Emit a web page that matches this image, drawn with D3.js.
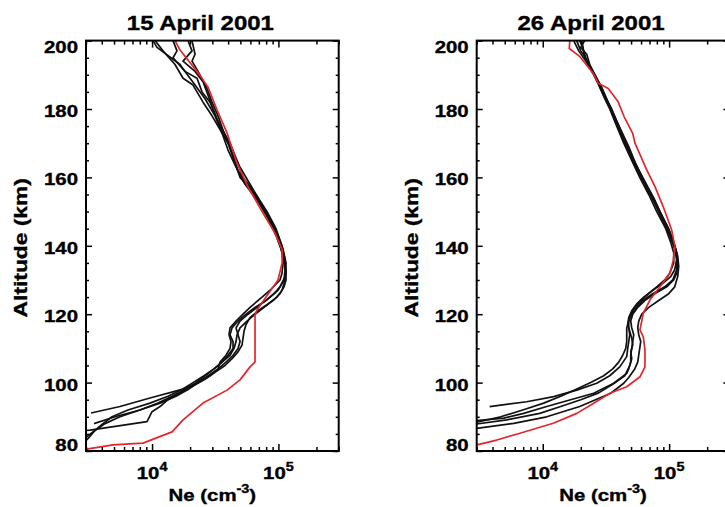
<!DOCTYPE html>
<html><head><meta charset="utf-8">
<script src="https://cdn.jsdelivr.net/npm/d3@7"></script>
<style>
body{margin:0;background:#fff}
text{font-family:"Liberation Sans",Arial,Helvetica,sans-serif;font-weight:bold;fill:#000;stroke:#000;stroke-width:0.35px}
</style>
</head><body>
<svg id="chart" width="725" height="507"></svg>
<script>
// ---------------- DATA: [altitude km, Ne cm^-3] ----------------
const panelTitles = ["15 April 2001", "26 April 2001"];
const altMajorTicks = [80, 100, 120, 140, 160, 180, 200];
const neDecadeTicks = [1e4, 1e5];
const neDecadeLabels = ["4", "5"];

const apr15_red = [[200,15200],[197.3,16600],[189.9,23900],[186.4,27700],[179.7,32700],[173,39200],[164.2,47000],[157.2,57500],[149.6,75500],[143.7,94000],[138.8,107000],[135,107000],[130,99300],[125,79800],[121.2,67700],[119.8,65300],[112.5,65300],[106,65300],[104.6,59600],[100.8,49700],[97.8,39200],[94,25300],[89.1,17600],[85.6,14400],[82.3,8480],[81.8,4910],[80.6,3110],[80,3000]];

const apr15_p1 = [[200,10170],[198,10940],[193,16640],[191,18230],[189,22690],[185,24860],[182,28760],[177,32670],[172,38490],[167,42950],[162,47910],[157,59620],[152,74190],[147,89010],[142,101100],[138,106780],[135,108740],[132,106780],[130,102970],[127,85820],[125,74190],[122,59620],[120,52480],[118,46190],[116,41410],[114,40660],[112,42170],[110,41410],[108,38490],[106,34510],[104,33270],[102,28760],[100,23110],[98,17260],[95.5,9630],[93,5575],[91.1,3290]];
const apr15_p2 = [[200,10550],[197,12210],[193,15190],[189,17580],[187,21090],[182,25310],[178,29820],[174,34510],[170,39930],[165,44540],[160,49690],[155,65300],[150,78340],[145,92310],[140,104860],[136,110740],[133,112780],[130,110740],[127,99270],[125,85820],[122,67730],[120,57490],[118,49690],[116,46190],[114,47910],[112,49690],[110,47910],[108,43740],[106,38490],[104,33270],[102,27730],[100,23110],[98,19260],[96,15470],[94,11560],[92,8020],[90,5090],[88,3470]];
const apr15_p3 = [[200,14650],[197,15750],[195,14650],[191,18230],[187,21880],[183,26250],[178,31500],[173,35790],[168,39930],[163,46190],[158,54430],[153,68970],[148,82750],[143,95730],[139,104860],[135,112780],[132,114860],[129,110740],[127,106780],[125,97480],[123,82750],[121,68970],[119,59620],[117,55430],[115,53440],[113,52480],[111,51530],[109,47910],[107,42950],[105,37800],[103,31500],[101,26250],[99,21090],[97,16640],[95,13370],[93,11560],[91.5,9990],[88.6,9120],[86.1,3230],[86,3000]];
const apr15_p4 = [[200,19260],[197,20710],[194,17580],[191,21880],[188,25310],[184,27730],[180,30370],[175,34510],[170,41410],[165,47040],[160,52480],[155,66500],[150,81250],[145,95730],[140,106780],[136,112780],[133,114860],[130,114860],[128,110740],[126,102970],[124,90640],[122,76930],[120,65300],[118,56450],[116,49690],[114,47040],[112,46190],[110,44540],[108,41410],[106,35790],[104,30930],[102,25780],[100,21090],[98,17260],[96,13370],[94,9630],[92,6450],[90,4820],[88,4090],[86,3530],[84,3000]];
const apr15_p5 = [[200,20710],[196,21880],[194,20710],[191,23110],[186,27230],[182,29820],[178,33270],[173,37120],[168,42170],[163,49690],[158,59620],[153,71530],[148,85820],[143,99270],[139,108740],[135,114860],[131,112780],[128,102970],[126,92310],[124,79790],[122,65300],[120,55430],[118,47910],[116,42950],[114,41410],[112,43740],[110,43740],[108,39930],[106,35790],[104,30930],[102,26250],[100,22280],[98,18230],[96,14380],[94,11140],[92,8020],[90,5575],[88,4240],[86,3530],[84,3170],[83,3000]];

const apr26_red = [[200.4,16400],[197.7,16200],[195.3,19700],[190.4,25100],[187.5,27500],[186,33000],[182.1,39500],[177.8,44000],[172.9,51500],[170,53700],[162.2,66500],[157.3,77300],[151.4,89900],[144.6,104800],[139.7,111300],[135.8,107900],[132,101600],[128,84700],[124.2,70600],[120.3,62500],[115.4,58800],[113.4,62500],[109.5,64400],[104.6,64400],[101.7,58800],[98.8,46200],[96.9,34000],[93.9,25100],[91,18600],[88.1,12100],[85.2,6600],[83.2,4320],[82,3190],[81.8,3000]];

const apr26_p1 = [[200,17580],[197,19260],[194,21880],[190,25310],[187,27730],[183,30930],[180,33880],[175,38490],[170,43740],[165,50600],[160,58540],[155,68970],[150,79790],[145,94000],[141,102970],[138,108740],[135,108740],[132,101100],[130,92310],[128,79790],[126,68970],[124,59620],[122,53440],[120,49690],[118,47910],[116,47910],[114,48790],[112,47910],[110,47040],[107.6,46190],[104.6,40660],[102,33880],[99.8,26730],[97.8,18560],[95.9,12210],[94.4,7460],[93,3800]];
const apr26_p2 = [[200,19610],[198,20710],[195,21480],[192,23960],[188,27230],[184,30370],[180,35140],[175,39930],[170,45360],[165,52480],[160,61830],[155,72850],[150,84270],[145,99270],[141,108740],[138,114860],[135,116960],[132,114860],[130,108740],[128,95730],[126,76930],[124,64120],[122,56450],[120,51530],[118,49690],[116,50600],[114,52480],[112,51530],[110,50600],[108,49690],[106,49690],[104,47910],[102.7,46190],[99.8,36450],[96.9,25310],[94.9,16340],[93,10750],[91,7060],[89.6,4910],[88.9,3000]];
const apr26_p3 = [[200,21480],[198,19970],[196,22280],[193,23530],[189,26730],[185,29820],[181,33880],[176,38490],[171,43740],[166,49690],[161,58540],[156,68970],[151,81250],[146,95730],[142,106780],[139,112780],[136,114860],[133,110740],[131,102970],[129,89010],[127,74190],[125,62970],[123,55430],[121,50600],[119,47910],[117,47040],[115,48790],[113,50600],[111,51530],[109,49690],[107,50600],[105,48790],[102,44540],[99.5,35790],[97,27730],[95,19970],[93,13870],[91,9460],[89.1,5180],[87.9,3000]];
const apr26_p4 = [[200,18560],[197,19970],[194,22690],[191,24860],[187,28760],[183,32080],[179,35790],[174,41410],[169,47910],[164,54430],[159,62970],[154,75550],[149,87390],[144,101100],[140,110740],[137,116960],[134,119120],[131,116960],[128,110740],[126,99270],[124,82750],[122,68970],[120,60710],[118,57490],[116,56450],[114,57490],[112,59620],[110,58540],[108,57490],[106,56450],[104,53440],[101.5,47910],[99.8,43740],[96.9,34510],[93,19610],[90,10750],[88.1,5890],[86.6,3000]];
const apr26_p5 = [[200,20340],[197,21090],[194,22280],[190,25780],[186,29290],[182,32670],[178,36450],[173,41410],[168,47040],[163,54430],[158,64120],[153,75550],[148,87390],[143,101100],[139,110740],[136,114860],[133,114860],[130,106780],[128,92310],[126,74190],[124,61830],[122,55430],[120,50600],[118,47910],[116,46190],[114,46190],[112,46190],[110,45360],[108,42950],[106,39930],[104,35790],[102,30370],[100,23960],[98,18230],[96,13870],[94,10170],[92,6940],[90,4650],[88.4,3000]];

const panelRed = [apr15_red, apr26_red];
const panelBlack = [
  [apr15_p1, apr15_p2, apr15_p3, apr15_p4, apr15_p5],
  [apr26_p1, apr26_p2, apr26_p3, apr26_p4, apr26_p5]
];

// ---------------- LAYOUT ----------------
const svg = d3.select("#chart");
const panelLeft = [86, 476.7];
const plotW = 252.7, plotTop = 40.6, plotBottom = 451;
const SX = 1.2; // horizontal glyph stretch

function sText(g, x, y, str, size, anchor) {
  return g.append("text")
    .attr("transform", `translate(${x},${y}) scale(${SX},1)`)
    .attr("text-anchor", anchor)
    .style("font-size", size + "px")
    .text(str);
}

panelTitles.forEach((title, i) => {
  const x0 = panelLeft[i], x1 = x0 + plotW;
  const x = d3.scaleLog().domain([3000, 300000]).range([x0, x1]);
  const y = d3.scaleLinear().domain([80, 200]).range([plotBottom, plotTop]);
  const g = svg.append("g");

  g.append("clipPath").attr("id", "clip" + i)
    .append("rect").attr("x", x0).attr("y", plotTop).attr("width", plotW).attr("height", plotBottom - plotTop);

  // curves
  const line = d3.line().x(d => x(d[1])).y(d => y(d[0]));
  const cg = g.append("g").attr("clip-path", `url(#clip${i})`);
  panelBlack[i].forEach(p => {
    cg.append("path").attr("d", line(p)).attr("fill", "none")
      .attr("stroke", "#111").attr("stroke-width", 1.7).attr("stroke-linejoin", "round");
  });
  cg.append("path").attr("d", line(panelRed[i])).attr("fill", "none")
    .attr("stroke", "#e3262b").attr("stroke-width", 1.7).attr("stroke-linejoin", "round");

  // ticks
  const minorAlt = d3.range(80, 201, 5).filter(v => v % 20 !== 0);
  const minorNe = [];
  [1e3, 1e4, 1e5].forEach(d => { for (let k = 2; k <= 9; k++) { const v = k * d; if (v >= 3000 && v <= 300000) minorNe.push(v); } });

  const axes = [
    [d3.axisLeft(y), `translate(${x0},0)`, altMajorTicks, minorAlt, 6, 3],
    [d3.axisRight(y), `translate(${x1},0)`, altMajorTicks, minorAlt, 6, 3],
    [d3.axisBottom(x), `translate(0,${plotBottom})`, neDecadeTicks, minorNe, 7, 4],
    [d3.axisTop(x), `translate(0,${plotTop})`, neDecadeTicks, minorNe, 7, 4]
  ];
  axes.forEach(([ax, tr, maj, min, lm, ln]) => {
    const a1 = g.append("g").attr("transform", tr)
      .call(ax.tickValues(maj).tickSize(-lm).tickFormat(""));
    a1.select(".domain").remove();
    const a2 = g.append("g").attr("transform", tr)
      .call(ax.tickValues(min).tickSize(-ln).tickFormat(""));
    a2.select(".domain").remove();
    g.selectAll(".tick line").attr("stroke", "#000").attr("stroke-width", 1.5);
  });

  // frame
  g.append("rect").attr("x", x0).attr("y", plotTop).attr("width", plotW).attr("height", plotBottom - plotTop)
    .attr("fill", "none").attr("stroke", "#000").attr("stroke-width", 2);

  // y tick labels
  altMajorTicks.forEach(v => {
    const cy = Math.max(plotTop + 6, Math.min(plotBottom - 6, y(v) + 2));
    sText(g, x0 - 8, cy + 6, String(v), 17, "end");
  });

  // x tick labels 10^n
  neDecadeTicks.forEach((v, k) => {
    const t = g.append("text")
      .attr("transform", `translate(${x(v)},479) scale(${SX},1)`)
      .attr("text-anchor", "middle").style("font-size", "17px");
    t.append("tspan").text("10");
    t.append("tspan").attr("dy", -8).style("font-size", "12px").text(neDecadeLabels[k]);
  });

  // x axis title
  const xt = g.append("text")
    .attr("transform", `translate(${(x0 + x1) / 2},500.5) scale(${SX},1)`)
    .attr("text-anchor", "middle").style("font-size", "17px");
  xt.append("tspan").text("Ne (cm");
  xt.append("tspan").attr("dy", -8).style("font-size", "12px").text("-3");
  xt.append("tspan").attr("dy", 8).text(")");

  // y axis title
  g.append("text")
    .attr("transform", `translate(${x0 - 59},${(plotTop + plotBottom) / 2 + 2}) rotate(-90) scale(${SX},1)`)
    .attr("text-anchor", "middle").style("font-size", "19px")
    .text("Altitude (km)");

  // panel title
  sText(g, (x0 + x1) / 2 - 12, 30, title, 20, "middle");
});
</script>
</body></html>
